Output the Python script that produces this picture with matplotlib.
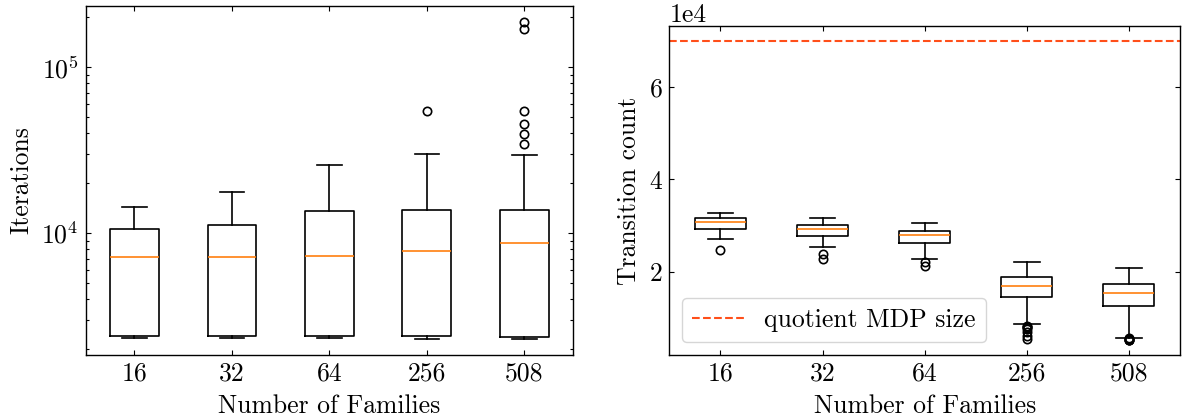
import matplotlib
matplotlib.use("Agg")
import matplotlib.pyplot as plt

plt.rcParams.update({
    "font.family": "serif",
    "font.serif": ["cmr10"],
    "mathtext.fontset": "cm",
    "axes.formatter.use_mathtext": True,
    "font.size": 18.5,
    "axes.linewidth": 1.0,
    "xtick.direction": "in",
    "ytick.direction": "in",
    "xtick.top": True,
    "ytick.right": True,
    "xtick.major.size": 3.5,
    "ytick.major.size": 3.5,
    "xtick.minor.size": 2.0,
    "ytick.minor.size": 2.0,
    "xtick.major.width": 0.8,
    "ytick.major.width": 0.8,
    "ytick.minor.width": 0.8,
    "xtick.major.pad": 5,
    "ytick.major.pad": 5,
})

categories = ["16", "32", "64", "256", "508"]

# Left panel: iterations (log scale)
iter_whislo = [2330, 2330, 2320, 2290, 2290]
iter_q1 = [2390, 2400, 2395, 2385, 2370]
iter_med = [7115, 7140, 7240, 7800, 8750]
iter_q3 = [10520, 11130, 13590, 13770, 13700]
iter_whishi = [14290, 17750, 25700, 30060, 29650]
iter_fliers = [[], [], [], [54100], [54100, 45600, 39700, 34600, 188400, 170300]]

# Right panel: transition count
trans_whislo = [27100, 25350, 22800, 8630, 5650]
trans_q1 = [29250, 27750, 26250, 14500, 12620]
trans_med = [30800, 29200, 27950, 16950, 15310]
trans_q3 = [31600, 30150, 28900, 18800, 17400]
trans_whishi = [32700, 31700, 30550, 22150, 20730]
trans_fliers = [[24700], [23750, 22750], [22100, 21250],
                [8100, 8000, 7900, 7500, 6800, 6100, 5400],
                [5500, 5350, 5250, 5200, 5150]]
quotient_mdp_size = 70000


def make_stats(lo, q1, med, q3, hi, fl):
    return [dict(whislo=a, q1=b, med=c, q3=d, whishi=e, fliers=f, label=lab)
            for a, b, c, d, e, f, lab in zip(lo, q1, med, q3, hi, fl, categories)]


fig = plt.figure(figsize=(11.84, 4.18), dpi=100)
ax1 = fig.add_axes([0.0724, 0.1507, 0.4116, 0.8357])
ax2 = fig.add_axes([0.5653, 0.1507, 0.4313, 0.7871])

boxprops = dict(linewidth=1.2, color="black")
whiskerprops = dict(linewidth=1.2, color="black")
capprops = dict(linewidth=1.2, color="black")
medianprops = dict(linewidth=1.2, color="#ff7f0e")
flierprops = dict(marker="o", markerfacecolor="none", markeredgecolor="black",
                  markersize=6, markeredgewidth=1.2)

kw = dict(boxprops=boxprops, whiskerprops=whiskerprops, capprops=capprops,
          medianprops=medianprops, flierprops=flierprops, widths=0.5)

ax1.bxp(make_stats(iter_whislo, iter_q1, iter_med, iter_q3, iter_whishi, iter_fliers), **kw)
ax1.set_yscale("log")
ax1.set_ylabel("Iterations", labelpad=6)
ax1.set_xlabel("Number of Families", labelpad=6)

ax2.axhline(quotient_mdp_size, color="#ff4f1a", linestyle="--", linewidth=1.5,
            label="quotient MDP size")
ax2.bxp(make_stats(trans_whislo, trans_q1, trans_med, trans_q3, trans_whishi, trans_fliers), **kw)
ax2.ticklabel_format(axis="y", style="sci", scilimits=(0, 0), useMathText=False)
ax2.set_yticks([20000, 40000, 60000])
ax2.set_ylabel("Transition count", labelpad=6)
ax2.set_xlabel("Number of Families", labelpad=6)
ax2.legend(loc="lower left", fancybox=True)

fig.savefig("out.png", dpi=100)
